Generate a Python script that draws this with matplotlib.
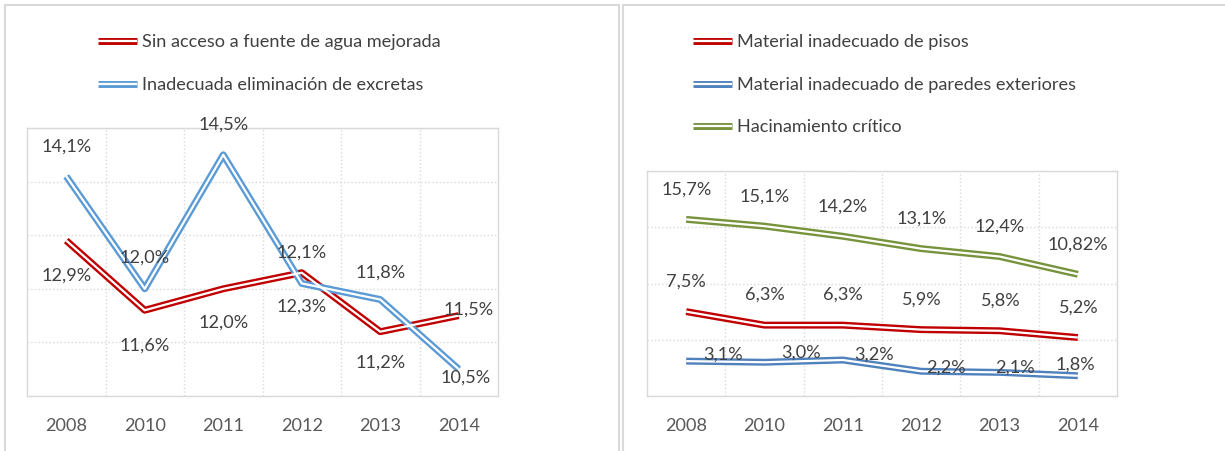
import matplotlib
matplotlib.use('Agg')
import matplotlib.pyplot as plt
from matplotlib.patches import Rectangle
from matplotlib.legend_handler import HandlerTuple

plt.rcParams['font.family'] = ['Lato', 'DejaVu Sans']

years = ['2008', '2010', '2011', '2012', '2013', '2014']

# left panel
agua = [12.9, 11.6, 12.0, 12.3, 11.2, 11.5]
excretas = [14.1, 12.0, 14.5, 12.1, 11.8, 10.5]
agua_label = 'Sin acceso a fuente de agua mejorada'
excretas_label = 'Inadecuada eliminación de excretas'

# right panel
pisos = [7.5, 6.3, 6.3, 5.9, 5.8, 5.2]
pisos_txt = ['7,5%', '6,3%', '6,3%', '5,9%', '5,8%', '5,2%']
paredes = [3.1, 3.0, 3.2, 2.2, 2.1, 1.8]
paredes_txt = ['3,1%', '3,0%', '3,2%', '2,2%', '2,1%', '1,8%']
hacinamiento = [15.7, 15.1, 14.2, 13.1, 12.4, 10.82]
hacinamiento_txt = ['15,7%', '15,1%', '14,2%', '13,1%', '12,4%', '10,82%']
pisos_label = 'Material inadecuado de pisos'
paredes_label = 'Material inadecuado de paredes exteriores'
hacinamiento_label = 'Hacinamiento crítico'

RED = '#C00000'
BLUE_L = '#5B9BD5'
BLUE_R = '#4F81BD'
GREEN = '#77933C'
TXT = '#404040'
GRID = '#D9D9D9'
FS = 13.1

W, H = 1225, 451
fig = plt.figure(figsize=(W / 100, H / 100), dpi=100)


def fmt(v):
    return ('%.1f%%' % v).replace('.', ',')


def px_axes(x0, y0, x1, y1):
    # pixel box (top-left origin) -> figure fraction axes
    return fig.add_axes([x0 / W, 1 - y1 / H, (x1 - x0) / W, (y1 - y0) / H])


def double_line(ax, vals, color):
    xs = list(range(len(vals)))
    outer, = ax.plot(xs, vals, color=color, lw=5.0, solid_capstyle='butt', zorder=3)
    inner, = ax.plot(xs, vals, color='white', lw=1.6, solid_capstyle='butt', zorder=4)
    return (outer, inner)


def style_axes(ax, ymin, ymax, step):
    ax.set_xlim(-0.5, len(years) - 0.5)
    ax.set_ylim(ymin, ymax)
    ax.set_xticks(range(len(years)))
    ax.set_xticklabels(years, fontsize=FS, color='#595959')
    ax.set_xticks([i + 0.5 for i in range(len(years) - 1)], minor=True)
    ax.set_yticks([ymin + step * k for k in range(int(round((ymax - ymin) / step)) + 1)])
    ax.set_yticklabels([])
    ax.tick_params(axis='both', which='both', length=0)
    ax.tick_params(axis='x', pad=15.5)
    ax.grid(True, axis='y', which='major', color=GRID, lw=1, ls=':')
    ax.grid(True, axis='x', which='minor', color=GRID, lw=1, ls=':')
    for s in ax.spines.values():
        s.set_color(GRID)
        s.set_linewidth(1)
    ax.set_axisbelow(True)


def labels(ax, vals, texts, offsets):
    for i, (v, t, off) in enumerate(zip(vals, texts, offsets)):
        ax.annotate(t, (i, v), xytext=off, textcoords='offset pixels',
                    ha='center', va='center', fontsize=FS, color=TXT, zorder=5)


def legend(handles, names, x, y):
    fig.legend(handles, names,
               handler_map={tuple: HandlerTuple(ndivide=1, pad=0)},
               loc='upper left', bbox_to_anchor=(x / W, 1 - y / H), frameon=False,
               borderaxespad=0, borderpad=0,
               fontsize=FS, labelcolor=TXT, handlelength=2.15, handletextpad=0.28,
               labelspacing=1.45)


# panel frames
fig.add_artist(Rectangle((5 / W, -0.02), 614 / W, 1 - 5 / H + 0.02, transform=fig.transFigure,
                         fill=False, edgecolor=GRID, lw=1.5))
fig.add_artist(Rectangle((623 / W, -0.02), 610 / W, 1 - 5 / H + 0.02, transform=fig.transFigure,
                         fill=False, edgecolor=GRID, lw=1.5))

# ---- left chart
ax1 = px_axes(27, 128, 498, 396)
style_axes(ax1, 10, 15, 1)
h_agua = double_line(ax1, agua, RED)
h_exc = double_line(ax1, excretas, BLUE_L)
labels(ax1, agua, [fmt(v) for v in agua],
       [(0, -35), (0, -35), (0, -34), (0, -34), (0, -31), (10, 6)])
labels(ax1, excretas, [fmt(v) for v in excretas],
       [(0, 30), (0, 31), (0, 30), (0, 31), (0, 27), (7, -8)])
legend([h_agua, h_exc], [agua_label, excretas_label], 98, 34.5)

# ---- right chart
ax2 = px_axes(647, 171, 1117, 396)
style_axes(ax2, 0, 20, 5)
h_pis = double_line(ax2, pisos, RED)
h_par = double_line(ax2, paredes, BLUE_R)
h_hac = double_line(ax2, hacinamiento, GREEN)
labels(ax2, hacinamiento, hacinamiento_txt, [(0, 30)] * 6)
labels(ax2, pisos, pisos_txt, [(0, 30)] * 6)
labels(ax2, paredes, paredes_txt,
       [(37, 6), (37, 10), (31, 5), (25, 4), (15, 5), (-2, 11)])
legend([h_pis, h_par, h_hac], [pisos_label, paredes_label, hacinamiento_label], 693, 34.5)

fig.savefig('out.png', dpi=100)
